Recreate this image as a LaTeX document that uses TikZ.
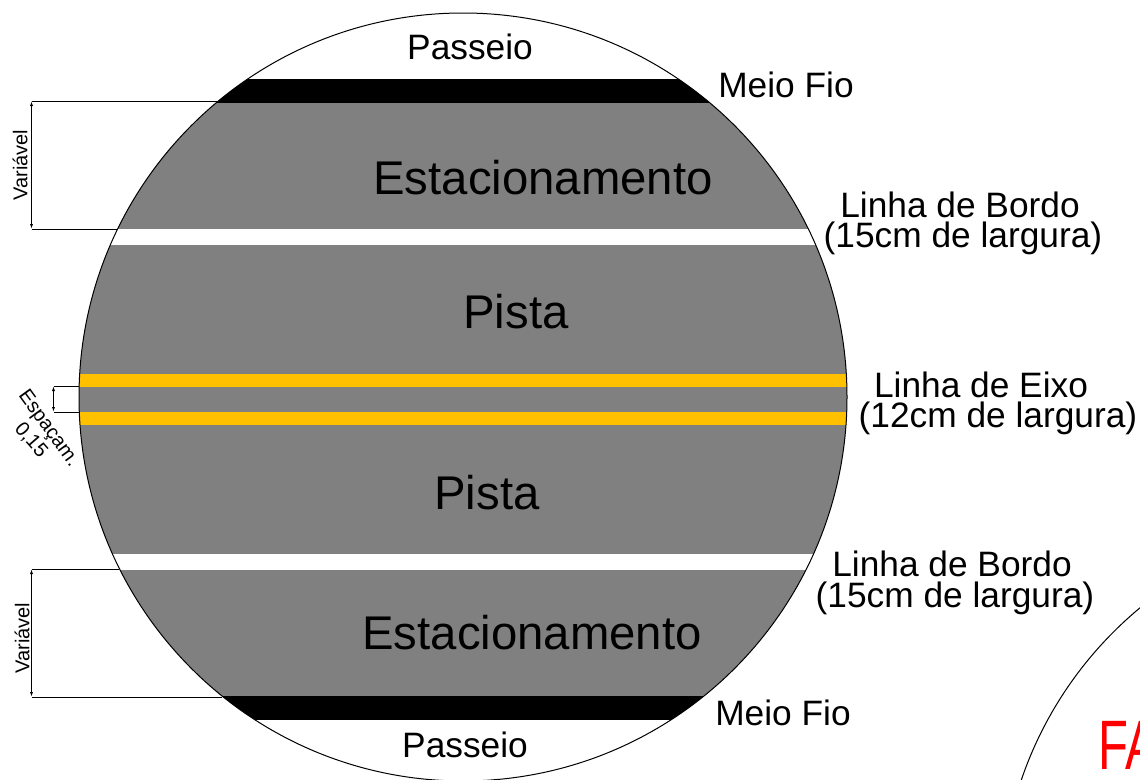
\documentclass[tikz,border=0pt]{standalone}
\usepackage{fontspec}
\setmainfont{Liberation Sans}
\usetikzlibrary{arrows.meta}
\definecolor{asphalt}{RGB}{128,128,128}
\definecolor{eixo}{RGB}{255,192,0}
\tikzset{
  lbl/.style={inner sep=0pt,text=black,font=\fontsize{35.3}{40}\selectfont},
  big/.style={inner sep=0pt,text=black,font=\fontsize{47.3}{52}\selectfont},
  small/.style={inner sep=0pt,text=black,font=\fontsize{20}{24}\selectfont},
  ext/.style={draw=black,line width=0.9pt},
  dim/.style={draw=black,line width=0.9pt,{Latex[length=5pt,width=3pt]}-{Latex[length=5pt,width=3pt]}},
}
\begin{document}
\begin{tikzpicture}[x=1pt,y=-1pt]
\useasboundingbox (0,0) rectangle (1140,779);
\fill[white] (0,0) rectangle (1140,779);
\begin{scope}
  \clip (0,0) rectangle (1140,779);
  \begin{scope}
    \clip (463,397) circle[radius=384];
    \fill[black] (60,79) rectangle (870,103);
    \fill[asphalt] (60,103) rectangle (870,229);
    \fill[asphalt] (60,245) rectangle (870,554);
    \fill[asphalt] (60,570) rectangle (870,696);
    \fill[black] (60,696) rectangle (870,720);
    \fill[eixo] (60,374) rectangle (870,387);
    \fill[eixo] (60,412) rectangle (870,425);
  \end{scope}
  \draw[black,line width=1pt] (463,397) circle[radius=384];
  \draw[black,line width=1pt] (1385,903.5) circle[radius=384];
\end{scope}
% dimension anchors
\coordinate (a1) at (31.5,101);  \coordinate (a2) at (217,101);
\coordinate (b1) at (31.5,229);  \coordinate (b2) at (118,229);
\coordinate (c1) at (31.5,569);  \coordinate (c2) at (119,569);
\coordinate (d1) at (31.5,697);  \coordinate (d2) at (222,697);
\coordinate (e1) at (53.5,386);  \coordinate (e2) at (79,386);
\coordinate (f1) at (53.5,412);  \coordinate (f2) at (79,412);
\draw[ext] (a1) -- (a2);
\draw[ext] (b1) -- (b2);
\draw[ext] (c1) -- (c2);
\draw[ext] (d1) -- (d2);
\draw[ext] (e1) -- (e2);
\draw[ext] (f1) -- (f2);
\draw[dim] (a1) -- (b1);
\draw[dim] (c1) -- (d1);
\draw[dim] (e1) -- (f1);
% labels
\node[lbl] (p1) at (470,47) {Passeio};
\node[lbl] (m1) at (786,85) {Meio Fio};
\node[big] (e1t) at (543,178) {Estacionamento};
\node[lbl] (lb1) at (960,205) {Linha de Bordo};
\node[lbl] (lb1b) at (963,238) {(15cm de largura)};
\node[big] (pi1) at (516,312) {Pista};
\node[lbl] (le) at (981,385) {Linha de Eixo};
\node[lbl] (leb) at (998,418) {(12cm de largura)};
\node[big] (pi2) at (487,493) {Pista};
\node[lbl] (lb2) at (952,564) {Linha de Bordo};
\node[lbl] (lb2b) at (955,598) {(15cm de largura)};
\node[big] (e2t) at (532,633) {Estacionamento};
\node[lbl] (m2) at (783,713) {Meio Fio};
\node[lbl] (p2) at (465,745) {Passeio};
\node[small,rotate=90] (v1) at (20,165) {Variável};
\node[small,rotate=90] (v2) at (22,638) {Variável};
\node[small,rotate=-54] (es) at (48,429) {Espaçam.};
\node[small,rotate=-49] (es2) at (31,440) {0,15};
\node[anchor=base west,inner sep=0pt,text=red,font=\fontsize{70}{74}\selectfont] (fa) at (1098,769) {\scalebox{0.7}[1]{FA}};
\end{tikzpicture}
\end{document}
